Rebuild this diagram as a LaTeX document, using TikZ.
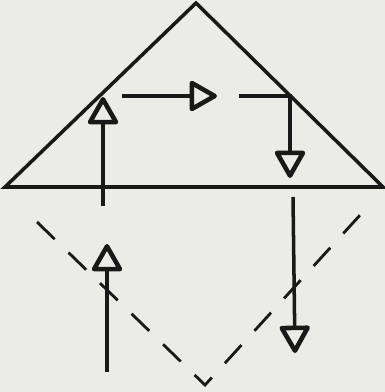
\documentclass[tikz,border=0pt]{standalone}
\usetikzlibrary{arrows.meta}
\definecolor{paper}{RGB}{235,235,232}
\definecolor{ink}{RGB}{25,25,25}

\begin{document}
\begin{tikzpicture}[x=0.02cm,y=-0.02cm]
  % Define line styles
  \tikzset{edge/.style={draw=ink, line width=2pt, line join=miter}}
  \tikzset{mirror/.style={draw=ink, line width=1.6pt, dash pattern=on 14pt off 11pt}}
  \tikzset{flow/.style={draw=ink, line width=2pt, -{Triangle[open, length=17pt, width=18.5pt, line width=2.6pt, round]}}}
  \fill[paper] (0,0) rectangle (385,392);
  \useasboundingbox (0,0) rectangle (385,392);
  % Define the points of the triangle
  \coordinate (A) at (5,187);
  \coordinate (B) at (383,187);
  \coordinate (C) at (196,3);
  % Draw the triangle
  \draw[edge] (A) -- (C) -- (B) -- cycle;
  % Points of the dashed mirror image
  \coordinate (D) at (37,222);
  \coordinate (E) at (205,385);
  \coordinate (F) at (372,202);
  \draw[mirror] (D) -- (E) -- (F);
  % The arrows
  \coordinate (in1) at (107,372); \coordinate (out1) at (107,244);
  \coordinate (in2) at (103,206); \coordinate (out2) at (103,97);
  \coordinate (in3) at (122,96);  \coordinate (out3) at (217,96);
  \coordinate (in4) at (239,96);  \coordinate (turn4) at (290,96); \coordinate (out4) at (290,178);
  \coordinate (in5) at (293,197); \coordinate (out5) at (295,353);
  \draw[flow] (in1) -- (out1);
  \draw[flow] (in2) -- (out2);
  \draw[flow] (in3) -- (out3);
  \draw[flow] (in4) -- (turn4) -- (out4);
  \draw[flow] (in5) -- (out5);
\end{tikzpicture}
\end{document}
